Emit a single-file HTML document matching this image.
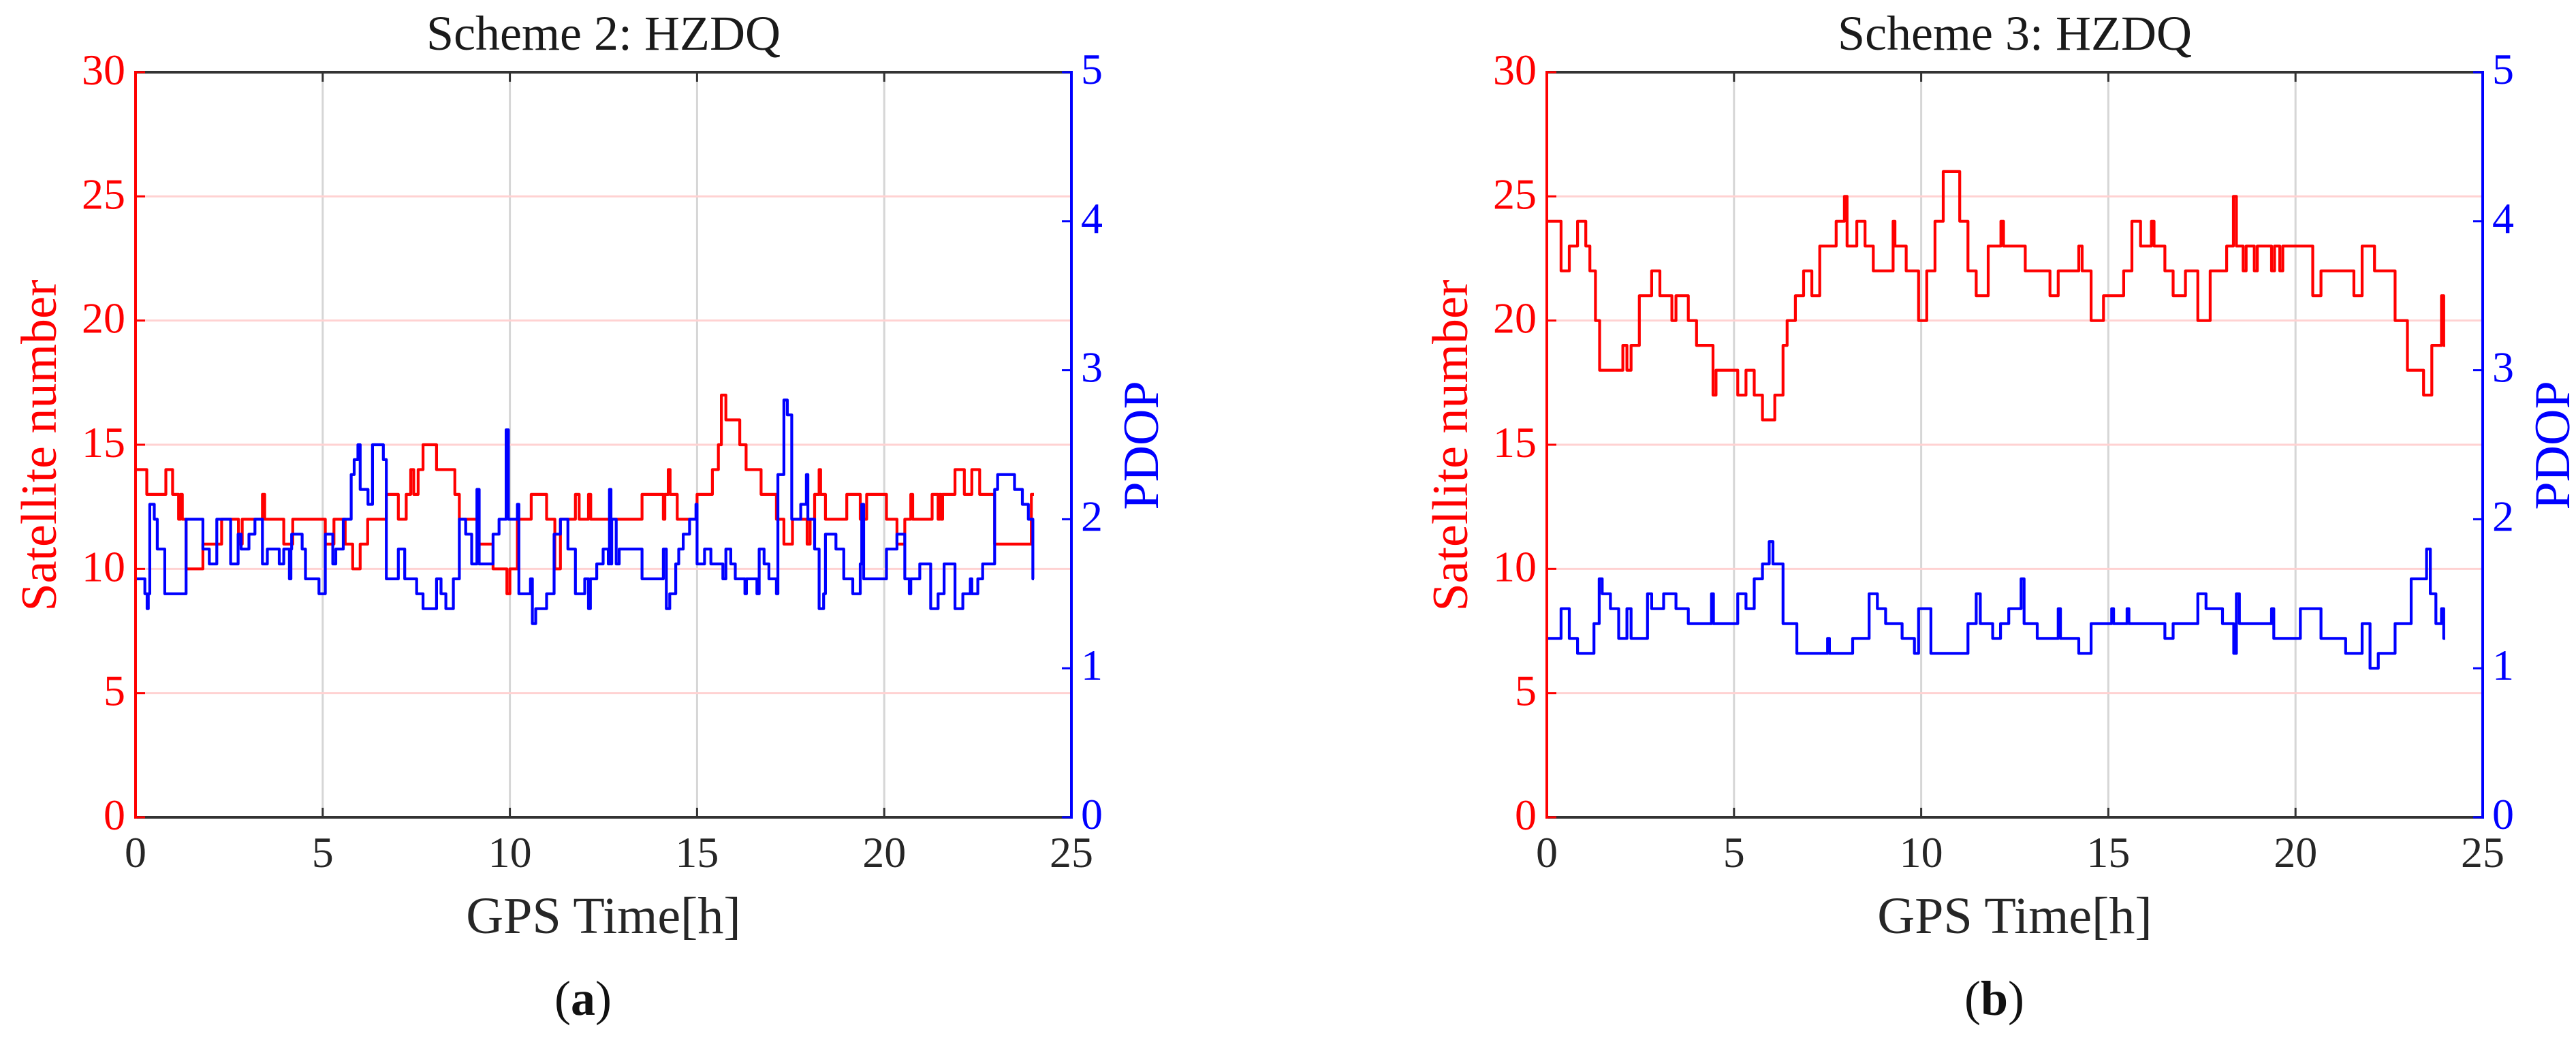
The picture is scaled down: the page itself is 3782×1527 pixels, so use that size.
<!DOCTYPE html>
<html><head><meta charset="utf-8">
<style>
html,body{margin:0;padding:0;background:#fff;}
svg{display:block;}
text{font-family:"Liberation Serif","DejaVu Serif",serif;}
</style></head>
<body>
<svg id="fig" width="3782" height="1527" viewBox="0 0 3782 1527" xmlns="http://www.w3.org/2000/svg"></svg>
<script>
const xTicks=[0,5,10,15,20,25];
const satTicks=[0,5,10,15,20,25,30];
const pdopTicks=[0,1,2,3,4,5];
const titles=["Scheme 2: HZDQ","Scheme 3: HZDQ"];
const captions=["a","b"];

const aSatT=[0,0.3,0.81,0.99,1.15,1.2,1.25,1.35,1.8,2.3,2.75,2.85,3.39,3.45,3.96,4.2,4.49,5.07,5.3,5.6,5.8,6.0,6.2,6.7,7.02,7.23,7.35,7.43,7.55,7.68,8.04,8.53,8.65,9.14,9.55,9.92,10.0,10.2,10.57,10.98,11.2,11.35,11.75,11.85,12.1,12.16,13.53,14.10,14.14,14.23,14.28,14.47,15.0,15.41,15.57,15.65,15.77,16.14,16.31,16.71,17.12,17.32,17.55,17.94,18.02,18.14,18.26,18.30,18.43,19.0,19.36,19.53,20.06,20.34,20.55,20.71,20.76,21.28,21.44,21.48,21.52,21.56,21.89,22.14,22.34,22.55,22.95,23.93];
const aSatV=[14,13,14,13,12,13,12,10,11,12,11,12,13,12,11,12,12,11,12,11,10,11,12,13,12,13,14,13,14,15,14,13,12,11,10,9,10,12,13,12,10,12,13,12,13,12,13,12,13,14,13,12,13,14,15,17,16,15,14,13,12,11,12,11,12,13,14,13,12,13,12,13,12,11,12,13,12,13,12,13,12,13,14,13,14,13,11,13];

const aPdopT=[0,0.25,0.31,0.34,0.38,0.50,0.58,0.78,1.35,1.80,1.97,2.17,2.54,2.74,2.82,3.03,3.19,3.39,3.52,3.84,3.96,4.11,4.15,4.17,4.45,4.54,4.90,5.07,5.27,5.35,5.55,5.76,5.84,5.94,6.0,6.21,6.33,6.62,6.70,7.02,7.19,7.51,7.68,8.04,8.16,8.29,8.49,8.65,8.82,8.98,9.12,9.18,9.55,9.71,9.90,9.96,10.2,10.24,10.55,10.6,10.69,10.98,11.18,11.35,11.55,11.75,12.0,12.1,12.15,12.32,12.49,12.63,12.66,12.70,12.72,12.84,12.92,13.53,14.10,14.18,14.27,14.43,14.51,14.63,14.8,14.97,15.0,15.2,15.37,15.69,15.77,15.9,16.02,16.28,16.32,16.6,16.66,16.79,16.92,17.12,17.16,17.32,17.41,17.53,17.77,17.92,17.96,18.14,18.26,18.38,18.43,18.71,18.92,19.16,19.36,19.4,19.45,20.06,20.34,20.55,20.67,20.71,20.95,21.24,21.44,21.6,21.89,22.1,22.3,22.34,22.5,22.63,22.95,23.03,23.48,23.69,23.85,23.97];
const aPdopV=[1.6,1.5,1.4,1.5,2.1,2.0,1.8,1.5,2.0,1.8,1.7,2.0,1.7,1.9,1.8,1.9,2.0,1.7,1.8,1.7,1.8,1.6,1.8,1.9,1.8,1.6,1.5,1.9,1.7,1.8,2.0,2.3,2.4,2.5,2.2,2.1,2.5,2.4,1.6,1.8,1.6,1.5,1.4,1.6,1.5,1.4,1.6,2.0,1.9,1.7,2.2,1.7,1.9,2.0,2.6,2.0,2.1,1.5,1.6,1.3,1.4,1.5,1.9,2.0,1.8,1.5,1.6,1.4,1.6,1.7,1.8,1.7,2.2,1.7,2.0,1.7,1.8,1.6,1.8,1.4,1.5,1.7,1.8,1.9,2.0,2.1,1.7,1.8,1.7,1.6,1.8,1.7,1.6,1.5,1.6,1.5,1.8,1.7,1.6,1.5,2.3,2.8,2.7,2.0,2.1,2.3,2.0,1.8,1.4,1.5,1.9,1.8,1.6,1.5,1.7,2.1,1.6,1.8,1.9,1.6,1.5,1.6,1.7,1.4,1.5,1.7,1.4,1.5,1.6,1.5,1.6,1.7,2.2,2.3,2.2,2.1,2.0,1.6];

const bSatT=[0,0.38,0.60,0.82,1.04,1.15,1.30,1.41,2.03,2.14,2.25,2.47,2.80,3.02,3.34,3.45,3.78,4.0,4.44,4.52,5.10,5.32,5.54,5.76,6.09,6.31,6.42,6.64,6.86,7.08,7.29,7.73,7.95,8.02,8.28,8.50,8.72,9.25,9.30,9.60,9.93,10.15,10.37,10.59,11.03,11.25,11.47,11.79,12.13,12.2,12.78,13.44,13.66,14.21,14.30,14.54,14.87,15.41,15.63,15.86,16.15,16.22,16.51,16.73,17.06,17.39,17.72,18.16,18.34,18.42,18.6,18.68,18.9,18.98,19.36,19.44,19.58,19.66,20.46,20.68,21.56,21.78,22.11,22.66,22.99,23.42,23.64,23.9,23.96];
const bSatV=[24,22,23,24,23,22,20,18,19,18,19,21,22,21,20,21,20,19,17,18,17,18,17,16,17,19,20,21,22,21,23,24,25,23,24,23,22,24,23,22,20,22,24,26,24,22,21,23,24,23,22,21,22,23,22,20,21,22,24,23,24,23,22,21,22,20,22,23,25,23,22,23,22,23,22,23,22,23,21,22,21,23,22,20,18,17,19,21,19];

const bPdopT=[0,0.38,0.60,0.82,1.26,1.40,1.48,1.70,1.92,2.14,2.25,2.69,2.80,3.12,3.45,3.78,4.40,4.45,5.10,5.32,5.54,5.76,5.94,6.04,6.31,6.68,7.5,7.55,8.17,8.61,8.83,9.05,9.49,9.82,9.93,10.26,11.25,11.47,11.58,11.91,12.12,12.34,12.67,12.75,13.1,13.66,13.72,14.21,14.54,15.09,15.14,15.5,15.55,16.51,16.73,17.39,17.61,18.05,18.35,18.42,18.5,19.36,19.42,20.13,20.68,21.34,21.78,21.99,22.21,22.66,23.09,23.5,23.6,23.75,23.9,23.96];
const bPdopV=[1.2,1.4,1.2,1.1,1.3,1.6,1.5,1.4,1.2,1.4,1.2,1.5,1.4,1.5,1.4,1.3,1.5,1.3,1.5,1.4,1.6,1.7,1.85,1.7,1.3,1.1,1.2,1.1,1.2,1.5,1.4,1.3,1.2,1.1,1.4,1.1,1.3,1.5,1.3,1.2,1.3,1.4,1.6,1.3,1.2,1.4,1.2,1.1,1.3,1.4,1.3,1.4,1.3,1.2,1.3,1.5,1.4,1.3,1.1,1.5,1.3,1.4,1.2,1.4,1.2,1.1,1.3,1.0,1.1,1.3,1.6,1.8,1.5,1.3,1.4,1.2];

const NS="http://www.w3.org/2000/svg";
const svg=document.getElementById('fig');
function mk(tag,attrs,parent){const e=document.createElementNS(NS,tag);for(const k in attrs)e.setAttribute(k,attrs[k]);(parent||svg).appendChild(e);return e;}

function stepPath(T,V,sx,sy){
  let d="M"+sx(T[0]).toFixed(1)+" "+sy(V[0]).toFixed(1);
  for(let i=1;i<T.length;i++){d+=" H"+sx(T[i]).toFixed(1)+" V"+sy(V[i]).toFixed(1);}
  d+=" H"+sx(24).toFixed(1);
  return d;
}

function panel(idx,L,satT,satV,pdT,pdV){
  const R=L+1374,T=106,B=1200,W=R-L,H=B-T;
  const g=mk('g',{});
  
  
  const sx=t=>L+t/25*W;
  const sySat=v=>B-v/30*H;
  const syP=v=>B-v/5*H;
  xTicks.forEach(t=>{if(t>0&&t<25){const l=mk('line',{x1:sx(t),x2:sx(t),y1:T,y2:B,stroke:'#d6d6d6','stroke-width':3},g);
    
    }});
  satTicks.forEach(v=>{if(v>0&&v<30){const l=mk('line',{x1:L,x2:R,y1:sySat(v),y2:sySat(v),stroke:'#ffd2d2','stroke-width':3},g);
    
    }});
  const s1=mk('path',{d:stepPath(satT,satV,sx,sySat),fill:'none',stroke:'#ff0000','stroke-width':4.2,'stroke-linejoin':'round'},g);
  
  
  const s2=mk('path',{d:stepPath(pdT,pdV,sx,syP),fill:'none',stroke:'#0000ff','stroke-width':4.2,'stroke-linejoin':'round'},g);
  
  
  const ax=mk('g',{},g);
  
  
  mk('line',{x1:L,x2:R,y1:T,y2:T,stroke:'#333','stroke-width':4},ax);
  mk('line',{x1:L,x2:R,y1:B,y2:B,stroke:'#333','stroke-width':4},ax);
  mk('line',{x1:L,x2:L,y1:T-2,y2:B+2,stroke:'#ff0000','stroke-width':4},ax);
  mk('line',{x1:R,x2:R,y1:T-2,y2:B+2,stroke:'#0000ff','stroke-width':4},ax);
  xTicks.forEach(t=>{
    if(t>0&&t<25){mk('line',{x1:sx(t),x2:sx(t),y1:B,y2:B-14,stroke:'#333','stroke-width':3},ax);
    mk('line',{x1:sx(t),x2:sx(t),y1:T,y2:T+14,stroke:'#333','stroke-width':3},ax);}
    const tx=mk('text',{x:sx(t),y:1273,'text-anchor':'middle','font-size':64,fill:'#262626'},ax);
    tx.textContent=t;
    
    
  });
  satTicks.forEach(v=>{
    mk('line',{x1:L,x2:L+14,y1:sySat(v),y2:sySat(v),stroke:'#ff0000','stroke-width':3},ax);
    const tx=mk('text',{x:L-15,y:sySat(v)+18,'text-anchor':'end','font-size':64,fill:'#ff0000'},ax);
    tx.textContent=v;
    
    
  });
  pdopTicks.forEach(v=>{
    mk('line',{x1:R,x2:R-14,y1:syP(v),y2:syP(v),stroke:'#0000ff','stroke-width':3},ax);
    const tx=mk('text',{x:R+14,y:syP(v)+17,'text-anchor':'start','font-size':64,fill:'#0000ff'},ax);
    tx.textContent=v;
    
    
  });
  const cx=(L+R)/2;
  const ti=mk('text',{x:cx,y:73,'text-anchor':'middle','font-size':72,fill:'#1a1a1a'},g);
  ti.textContent=titles[idx];
  
  
  const xl=mk('text',{x:cx,y:1370,'text-anchor':'middle','font-size':76,fill:'#262626'},g);
  xl.textContent='GPS Time[h]';
  
  
  const yl=mk('text',{x:0,y:0,'text-anchor':'middle','font-size':74,fill:'#ff0000',transform:'translate('+(L-117)+',654) rotate(-90)'},g);
  yl.textContent='Satellite number';
  
  
  const yr=mk('text',{x:0,y:0,'text-anchor':'middle','font-size':74,fill:'#0000ff',transform:'translate('+(R+127)+',654) rotate(-90)'},g);
  yr.textContent='PDOP';
  
  
  const cap=mk('text',{x:cx-30,y:1490,'text-anchor':'middle','font-size':72,fill:'#111'},g);
  cap.innerHTML='(<tspan font-weight="bold">'+captions[idx]+'</tspan>)';
  
  
}
panel(0,199,aSatT,aSatV,aPdopT,aPdopV);
panel(1,2271,bSatT,bSatV,bPdopT,bPdopV);
</script>
</body></html>
